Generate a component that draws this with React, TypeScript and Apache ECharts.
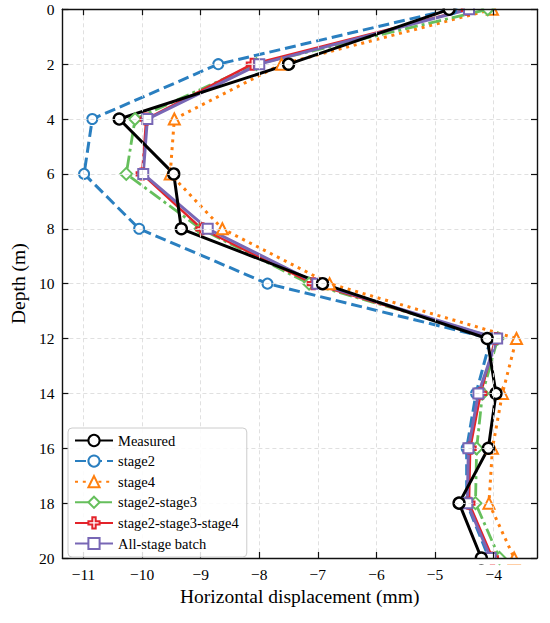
import React, { useEffect, useRef } from "react";
import * as echarts from "echarts";

const depths = [0, 2, 4, 6, 8, 10, 12, 14, 16, 18, 20];
const measured = [-4.76, -7.5, -10.39, -9.46, -9.33, -6.92, -4.11, -3.96, -4.09, -4.59, -4.21];
const stage2 = [-4.72, -8.7, -10.85, -10.99, -10.05, -7.86, -4.05, -4.3, -4.46, -4.46, -4.08];
const stage4 = [-4.02, -7.62, -9.45, -9.52, -8.63, -6.8, -3.61, -3.85, -4.02, -4.08, -3.65];
const stage23 = [-4.1, -8.05, -10.12, -10.27, -9.0, -7.15, -3.93, -4.19, -4.29, -4.31, -3.9];
const stage234 = [-4.45, -8.12, -9.93, -10.0, -8.98, -7.08, -3.97, -4.22, -4.4, -4.42, -4.02];
const allStage = [-4.42, -8.0, -9.91, -9.98, -8.88, -7.01, -3.94, -4.26, -4.43, -4.45, -4.05];
const xTicks = [-11, -10, -9, -8, -7, -6, -5, -4];

const FONT = "'Liberation Serif', 'Times New Roman', serif";
const PLUS = "path://M3.5,0 H6.5 V3.5 H10 V6.5 H6.5 V10 H3.5 V6.5 H0 V3.5 H3.5 Z";

function pairs(vals: number[]) {
  return vals.map((v, i) => [v, depths[i]]);
}

export default function App() {
  const ref = useRef<HTMLDivElement>(null);
  useEffect(() => {
    if (!ref.current) return;
    const chart = echarts.init(ref.current, null, { renderer: "svg" });
    const minus = (v: number) => String(v).replace("-", "\u2212");
    const mk = (
      name: string,
      vals: number[],
      color: string,
      lineType: any,
      width: number,
      symbol: string,
      size: number,
      bw: number
    ) => ({
      name,
      type: "line",
      data: pairs(vals),
      symbol,
      symbolSize: size,
      showAllSymbol: true,
      clip: false,
      lineStyle: { color, width, type: lineType },
      itemStyle: { color: "#ffffff", borderColor: color, borderWidth: bw },
      emphasis: { disabled: true },
    });
    const option: any = {
      animation: false,
      grid: { left: 61, right: 13, top: 9.3, bottom: 65 },
      xAxis: [
        {
          type: "value",
          min: -11.36,
          max: -3.26,
          z: 6,
          name: "Horizontal displacement (mm)",
          nameLocation: "middle",
          nameGap: 28,
          nameTextStyle: { fontFamily: FONT, fontSize: 19.5, color: "#000" },
          axisLine: { show: true, onZero: false, lineStyle: { color: "#111", width: 1.4 } },
          axisTick: { show: true, inside: true, length: 6, customValues: xTicks, lineStyle: { color: "#111", width: 1.2 } },
          axisLabel: { customValues: xTicks, formatter: minus, fontFamily: FONT, fontSize: 15.5, color: "#000", margin: 8 },
          splitLine: { show: true, lineStyle: { color: "#dddddd", width: 0.9, type: [4, 3] } },
        },
        {
          type: "value",
          position: "top",
          min: -11.36,
          max: -3.26,
          z: 6,
          axisLine: { show: true, onZero: false, lineStyle: { color: "#111", width: 1.4 } },
          axisTick: { show: true, inside: true, length: 6, customValues: xTicks, lineStyle: { color: "#111", width: 1.2 } },
          axisLabel: { show: false },
          splitLine: { show: false },
        },
      ],
      yAxis: [
        {
          type: "value",
          min: 0,
          max: 20,
          interval: 2,
          inverse: true,
          z: 6,
          name: "Depth (m)",
          nameLocation: "middle",
          nameGap: 33,
          nameTextStyle: { fontFamily: FONT, fontSize: 19.5, color: "#000" },
          axisLine: { show: true, onZero: false, lineStyle: { color: "#111", width: 1.4 } },
          axisTick: { show: true, inside: true, length: 6, lineStyle: { color: "#111", width: 1.2 } },
          axisLabel: { fontFamily: FONT, fontSize: 15.5, color: "#000", margin: 8 },
          splitLine: { show: true, lineStyle: { color: "#dddddd", width: 0.9, type: [4, 3] } },
        },
        {
          type: "value",
          position: "right",
          min: 0,
          max: 20,
          interval: 2,
          inverse: true,
          z: 6,
          axisLine: { show: true, onZero: false, lineStyle: { color: "#111", width: 1.4 } },
          axisTick: { show: true, inside: true, length: 6, lineStyle: { color: "#111", width: 1.2 } },
          axisLabel: { show: false },
          splitLine: { show: false },
        },
      ],
      legend: {
        orient: "vertical",
        left: 68,
        top: 428,
        data: ["Measured", "stage2", "stage4", "stage2-stage3", "stage2-stage3-stage4", "All-stage batch"],
        itemWidth: 38,
        itemHeight: 14,
        itemGap: 5.6,
        padding: [5, 8, 6, 6],
        borderColor: "#cccccc",
        borderWidth: 1,
        borderRadius: 4,
        backgroundColor: "rgba(255,255,255,0.85)",
        textStyle: { fontFamily: FONT, fontSize: 14.5, color: "#000" },
        z: 10,
      },
      graphic: [
        { type: "rect", z: 5, shape: { x: 0, y: 0, width: 550, height: 8.5 }, style: { fill: "#fff" } },
        { type: "rect", z: 5, shape: { x: 50, y: 558.8, width: 500, height: 5.5 }, style: { fill: "#fff" } },
      ],
      series: [
        mk("stage2", stage2, "#2a7fc0", [11, 5], 3, "circle", 10, 2),
        mk("stage4", stage4, "#ff7f0e", [3, 4.8], 3, "triangle", 11, 2),
        mk("stage2-stage3", stage23, "#66bf5c", [13, 4, 3, 4], 2.8, "diamond", 12, 2),
        mk("stage2-stage3-stage4", stage234, "#e3232a", "solid", 2.4, PLUS, 11, 2),
        mk("All-stage batch", allStage, "#7867b5", "solid", 3, "rect", 10, 2),
        mk("Measured", measured, "#000000", "solid", 3, "circle", 11, 2.4),
      ],
    };
    chart.setOption(option);
    return () => chart.dispose();
  }, []);
  return (
    <div
      ref={ref}
      style={{ position: "fixed", left: 0, top: 0, width: 550, height: 623, background: "#fff" }}
    />
  );
}
